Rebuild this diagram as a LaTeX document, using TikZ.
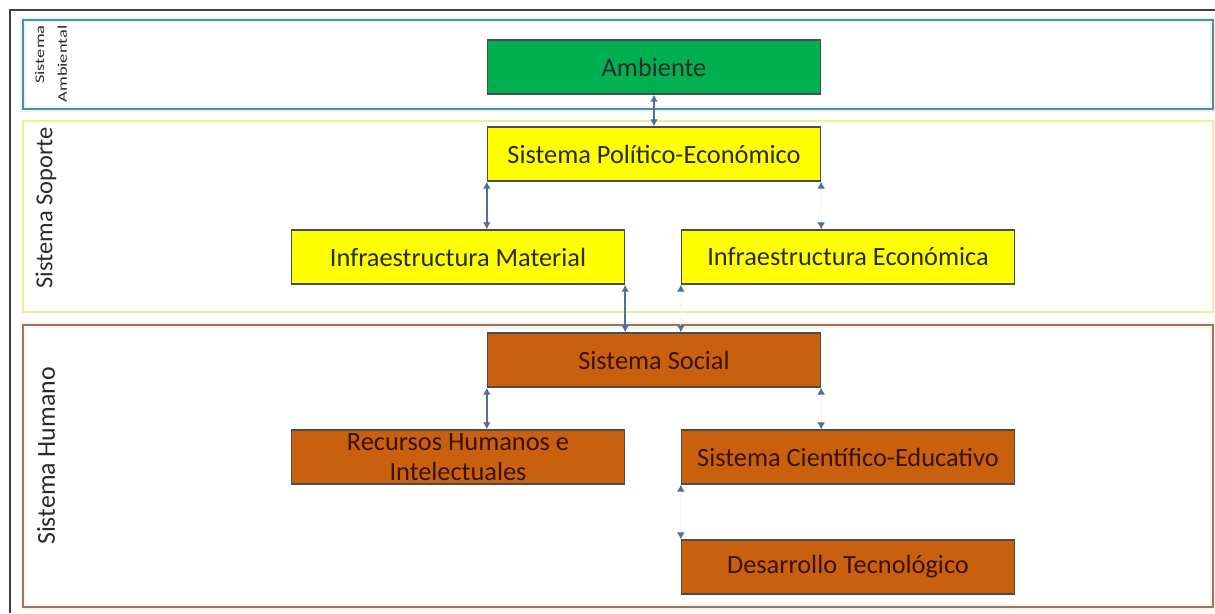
\documentclass[tikz,border=0pt]{standalone}
\usepackage{fontspec}
\setmainfont{Carlito}
\usetikzlibrary{arrows.meta, positioning}

\definecolor{verde}{HTML}{00B050}
\definecolor{amarillo}{HTML}{FFFF00}
\definecolor{naranja}{HTML}{C9600E}
\definecolor{conector}{HTML}{4F6E9C}
\definecolor{bordeamb}{HTML}{5E8C80}
\definecolor{bordesop}{HTML}{EDED9A}
\definecolor{bordehum}{HTML}{8C7A6A}
\definecolor{textocaja}{HTML}{2A2A2A}
\definecolor{textohum}{HTML}{3A1200}

\begin{document}
\begin{tikzpicture}[
  x=0.02cm, y=-0.02cm,
  caja/.style={draw=black!70, line width=0.8pt,
               minimum width=6.66cm, minimum height=1.08cm,
               inner sep=0pt, align=center, text=textocaja,
               font=\fontsize{15}{17}\selectfont},
  humana/.style={caja, fill=naranja, text=textohum},
  banda/.style={line width=1pt},
  etiqueta/.style={rotate=90, text=textocaja},
  enlace/.style={draw=conector, line width=0.8pt,
                 {Latex[length=4pt,width=4.5pt]}-{Latex[length=4pt,width=4.5pt]}},
  tenue/.style={draw=conector!7, line width=0.6pt,
                {Latex[length=4pt,width=4.5pt,color=conector]}-{Latex[length=4pt,width=4.5pt,color=conector]}}
]
  \useasboundingbox (0,0) rectangle (1215,613);

  % marco y bandas
  \draw[black!75, line width=1.3pt] (10,613) -- (10,10) -- (1215,10);
  \draw[banda, draw=cyan!12, line width=3pt] (23,20) rectangle (1213,109);
  \draw[banda, draw=bordeamb] (23,20) rectangle (1213,109);
  \draw[banda, draw=bordesop, line width=1.6pt] (23,121) rectangle (1213,312);
  \draw[banda, draw=orange!10, line width=3pt] (23,325) rectangle (1213,607);
  \draw[banda, draw=bordehum] (23,325) rectangle (1213,607);

  % etiquetas de las bandas
  \node[etiqueta, anchor=east, inner sep=0pt, font=\fontsize{7.5}{13}\selectfont] (lamb) at (51,25)
    {\scalebox{1.4}[1]{\begin{tabular}{@{}r@{}}Sistema\\Ambiental\end{tabular}}};
  \node[etiqueta, font=\fontsize{13.9}{16}\selectfont] (lsop) at (46,208) {Sistema Soporte};
  \node[etiqueta, font=\fontsize{14.7}{17}\selectfont] (lhum) at (46,456) {Sistema Humano};

  % cajas
  \node[caja, fill=verde]    (amb) at (654,67)  {Ambiente};
  \node[caja, fill=amarillo] (pe)  at (654,154) {Sistema Político-Económico};
  \node[caja, fill=amarillo] (im)  at (458,257) {Infraestructura Material};
  \node[caja, fill=amarillo] (ie)  at (848,257) {Infraestructura Económica};
  \node[humana] (soc) at (654,360) {Sistema Social};
  \node[humana] (rh)  at (458,457) {Recursos Humanos e\\Intelectuales};
  \node[humana] (ce)  at (848,457) {Sistema Científico-Educativo};
  \node[humana] (dt)  at (848,567) {Desarrollo Tecnológico};

  % conectores
  \draw[enlace] (amb.south) -- (pe.north);
  \draw[enlace] (pe.south west) -- (pe.south west |- im.north);
  \draw[tenue]  (pe.south east) -- (pe.south east |- ie.north);
  \draw[enlace] (im.south east) -- (im.south east |- soc.north);
  \draw[tenue]  (ie.south west) -- (ie.south west |- soc.north);
  \draw[enlace] (soc.south west) -- (soc.south west |- rh.north);
  \draw[tenue]  (soc.south east) -- (soc.south east |- ce.north);
  \draw[tenue]  (ce.south west) -- (dt.north west);
\end{tikzpicture}
\end{document}
